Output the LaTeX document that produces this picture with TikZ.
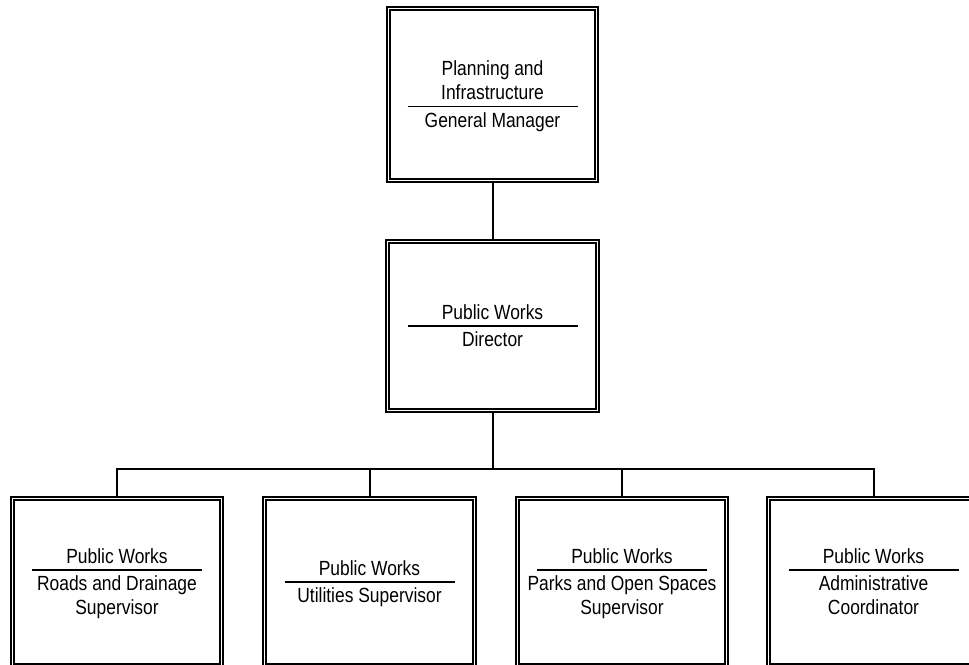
\documentclass[tikz,border=0pt]{standalone}
\usepackage{fontspec}
\setmainfont[FakeStretch=0.85]{Liberation Sans}
\usetikzlibrary{calc}
\begin{document}
\begin{tikzpicture}[x=1pt,y=-1pt,
  frame/.style={draw, line width=2.8pt, fill=white, minimum width=#1, inner sep=0pt},
  frameinner/.style={draw, line width=1.6pt},
  rule/.style={line width=1.5pt},
  link/.style={line width=2pt},
  label/.style={font=\fontsize{20.5}{24}\selectfont, align=center, inner sep=0pt}
]
\clip (0,0) rectangle (969,664);
\fill[white] (0,0) rectangle (969,664);

% #1 name, #2 centre x, #3 centre y, #4 width, #5 height,
% #6 offset of the rule from the centre, #7 upper text, #8 lower text
\newcommand{\orgbox}[8]{%
  \node[frame=#4, minimum height=#5] (#1) at (#2,#3) {};
  \draw[frameinner] ([shift={(4.5,4.5)}]#1.north west) rectangle ([shift={(-4.5,-4.5)}]#1.south east);
  \draw[rule] ([shift={(-85,#6)}]#1.center) coordinate (#1-l) -- ([shift={(85,#6)}]#1.center) coordinate (#1-r);
  \node[label, anchor=south] (#1-top) at ([yshift=6.5pt]$(#1-l)!0.5!(#1-r)$) {#7};
  \node[label, anchor=north] (#1-bot) at ([yshift=-5.5pt]$(#1-l)!0.5!(#1-r)$) {#8};
}

\orgbox{gm}{492.5}{94.5}{211}{175}{12}{Planning and\\Infrastructure}{General Manager}
\orgbox{dir}{492.5}{326}{213}{172}{0}{Public Works}{Director}
\orgbox{roads}{117}{582}{212}{170}{-12}{Public Works}{Roads and Drainage\\Supervisor}
\orgbox{util}{369.5}{582}{213}{170}{0}{Public Works}{Utilities Supervisor}
\orgbox{parks}{622}{582}{212}{170}{-12}{Public Works}{Parks and Open Spaces\\Supervisor}
\orgbox{admin}{873.5}{582}{213}{170}{-12}{Public Works}{Administrative\\Coordinator}

% reporting lines
\coordinate (bus) at (492.5,469);
\draw[link] (gm.south) -- (dir.north);
\draw[link] (dir.south) -- (bus);
\draw[link] (roads.north) -- (roads.north |- bus) -- (admin.north |- bus) -- (admin.north);
\draw[link] (util.north) -- (util.north |- bus);
\draw[link] (parks.north) -- (parks.north |- bus);
\end{tikzpicture}
\end{document}
